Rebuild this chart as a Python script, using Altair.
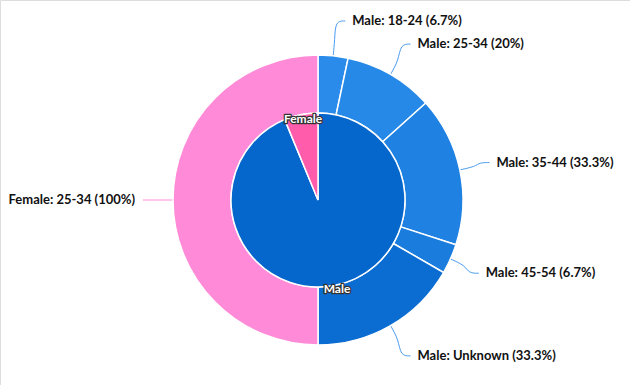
import altair as alt
import pandas as pd
import numpy as np

# ---- data ----
genders = ["Male", "Female"]
gender_counts = [15, 1]
inner_colors = ["#0566cc", "#ff5cab"]

seg_gender = ["Male", "Male", "Male", "Male", "Male", "Female"]
seg_age = ["18-24", "25-34", "35-44", "45-54", "Unknown", "25-34"]
seg_counts = [1, 3, 5, 1, 5, 1]
seg_colors = ["#2b8bea", "#2688e7", "#1f82e2", "#1a7ddd", "#0b6cd2", "#ff8ad8"]
line_colors = ["#4a9bf0", "#4a9bf0", "#4a9bf0", "#4a9bf0", "#4a9bf0", "#ff8ad8"]

W, H = 630, 385
CX, CY = 318, 200
R_IN, R_OUT = 87, 145

# inner pie table
inner = pd.DataFrame({"gender": genders, "count": gender_counts,
                      "order": list(range(len(genders)))})
tot = sum(gender_counts)
inner_mid = []
acc = 0
for c in gender_counts:
    inner_mid.append((acc + c / 2) / tot * 2 * np.pi)
    acc += c
inner["lx"] = [CX + R_IN * np.sin(a) + 2 for a in inner_mid]
inner["ly"] = [CY - R_IN * np.cos(a) + 4 for a in inner_mid]

# outer ring table: share within gender
gtot = dict(zip(genders, gender_counts))
share = [c / gtot[g] * 100 for g, c in zip(seg_gender, seg_counts)]
outer = pd.DataFrame({"gender": seg_gender, "age": seg_age, "share": share,
                      "order": list(range(len(seg_age)))})
outer["key"] = outer["gender"] + ": " + outer["age"]
outer["label"] = [f"{g}: {a} ({round(s, 1):g}%)" for g, a, s in zip(seg_gender, seg_age, share)]

stot = sum(share)
mids = []
acc = 0
for s in share:
    mids.append((acc + s / 2) / stot * 2 * np.pi)
    acc += s

# leader lines + label positions (derived from angles)
line_rows = []
tx, ty, talign = [], [], []
RX_LAB, RY_LAB = 165, 180
for i, a in enumerate(mids):
    sx, sy = np.sin(a), -np.cos(a)
    right = sx >= 0
    ax_ = CX + RX_LAB * sx
    ay_ = CY + RY_LAB * sy
    ex = ax_ + (10 if right else -10)
    pts = [(CX + R_OUT * sx, CY + R_OUT * sy),
           (CX + (R_OUT + 16) * sx, CY + (R_OUT + 16) * sy),
           (ax_, ay_),
           (ex, ay_)]
    for j, (px, py) in enumerate(pts):
        line_rows.append({"key": outer["key"][i], "x": px, "y": py, "o": j})
    tx.append(ex + (7 if right else -8))
    ty.append(ay_)
    talign.append("left" if right else "right")
lines = pd.DataFrame(line_rows)
outer["tx"] = tx
outer["ty"] = ty
outer["align"] = talign

xs = alt.Scale(domain=[0, W], range=[0, W])
ys = alt.Scale(domain=[0, H], range=[0, H])
FONT = "Lato"
FS = 13
FS_IN = 12

outer_arc = alt.Chart(outer).mark_arc(
    innerRadius=R_IN, outerRadius=R_OUT, stroke="white", strokeWidth=1.5
).encode(
    theta=alt.Theta("share:Q", stack=True),
    order=alt.Order("order:Q"),
    color=alt.Color("key:N", scale=alt.Scale(domain=list(outer["key"]), range=seg_colors), legend=None),
    x=alt.value(CX), y=alt.value(CY),
)

inner_arc = alt.Chart(inner).mark_arc(
    outerRadius=R_IN, stroke="white", strokeWidth=1.5
).encode(
    theta=alt.Theta("count:Q", stack=True),
    order=alt.Order("order:Q"),
    color=alt.Color("gender:N", scale=alt.Scale(domain=genders, range=inner_colors), legend=None),
    x=alt.value(CX), y=alt.value(CY),
)

leaders = alt.Chart(lines).mark_line(interpolate="basis", strokeWidth=1).encode(
    x=alt.X("x:Q", scale=xs, axis=None),
    y=alt.Y("y:Q", scale=ys, axis=None),
    detail="key:N",
    order="o:Q",
    color=alt.Color("key:N", scale=alt.Scale(domain=list(outer["key"]), range=line_colors), legend=None),
)

right_lab = alt.Chart(outer[outer["align"] == "left"]).mark_text(
    align="left", baseline="middle", font=FONT, fontSize=FS, fontWeight="bold", color="#111"
).encode(x=alt.X("tx:Q", scale=xs, axis=None), y=alt.Y("ty:Q", scale=ys, axis=None), text="label:N")

left_lab = alt.Chart(outer[outer["align"] == "right"]).mark_text(
    align="right", baseline="middle", font=FONT, fontSize=FS, fontWeight="bold", color="#111"
).encode(x=alt.X("tx:Q", scale=xs, axis=None), y=alt.Y("ty:Q", scale=ys, axis=None), text="label:N")

inner_outline = alt.Chart(inner).mark_text(
    align="center", baseline="middle", font=FONT, fontSize=FS_IN, fontWeight="bold",
    color="#333", stroke="#333", strokeWidth=2.5, strokeJoin="round"
).encode(x=alt.X("lx:Q", scale=xs, axis=None), y=alt.Y("ly:Q", scale=ys, axis=None), text="gender:N")

inner_text = alt.Chart(inner).mark_text(
    align="center", baseline="middle", font=FONT, fontSize=FS_IN, fontWeight="bold", color="white"
).encode(x=alt.X("lx:Q", scale=xs, axis=None), y=alt.Y("ly:Q", scale=ys, axis=None), text="gender:N")

chart = alt.layer(
    leaders, outer_arc, inner_arc, right_lab, left_lab, inner_outline, inner_text
).resolve_scale(color="independent", theta="independent").properties(
    width=W, height=H, autosize=alt.AutoSizeParams(type="none"), padding=0
).configure_view(stroke=None).configure(background="white")

chart.save("out.html", embed_options={"renderer": "svg", "actions": False})
